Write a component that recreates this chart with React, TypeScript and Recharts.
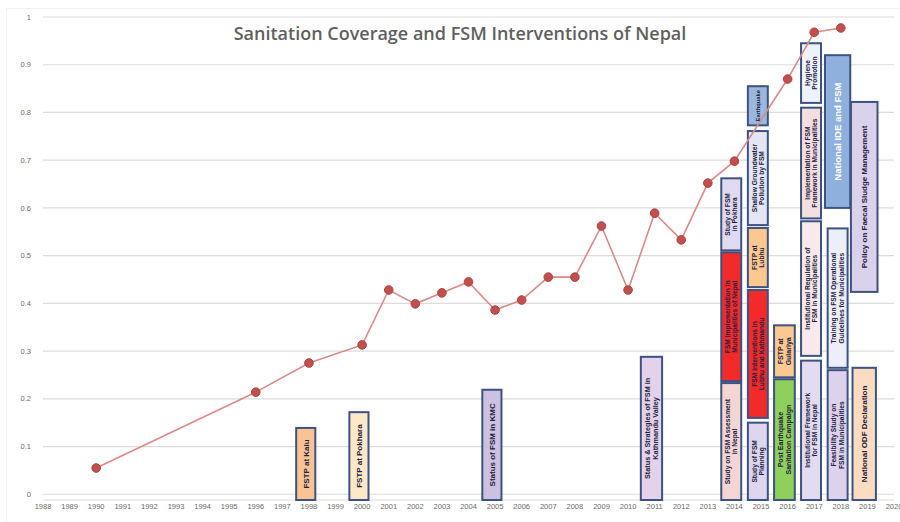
import { ComposedChart, Line, XAxis, YAxis, CartesianGrid, ReferenceArea } from "recharts";

// sanitation coverage (share of households)
const years = [1990, 1996, 1998, 2000, 2001, 2002, 2003, 2004, 2005, 2006, 2007, 2008, 2009, 2010, 2011, 2012, 2013, 2014, 2016, 2017, 2018];
const coverage = [0.055, 0.214, 0.275, 0.313, 0.428, 0.399, 0.422, 0.445, 0.386, 0.407, 0.455, 0.455, 0.562, 0.428, 0.589, 0.533, 0.652, 0.698, 0.87, 0.968, 0.977];

const axisYears = [1988, 1989, 1990, 1991, 1992, 1993, 1994, 1995, 1996, 1997, 1998, 1999, 2000, 2001, 2002, 2003, 2004, 2005, 2006, 2007, 2008, 2009, 2010, 2011, 2012, 2013, 2014, 2015, 2016, 2017, 2018, 2019, 2020];
const yTicks = [0, 0.1, 0.2, 0.3, 0.4, 0.5, 0.6, 0.7, 0.8, 0.9, 1];

// FSM interventions (year, vertical extent)
const boxYears = [1998, 2000, 2005, 2011, 2014, 2014, 2014, 2015, 2015, 2015, 2015, 2015, 2016, 2016, 2017, 2017, 2017, 2017, 2018, 2018, 2018, 2019, 2019];
const boxFrom = [-0.012, -0.012, -0.012, -0.012, -0.012, 0.237, 0.511, -0.012, 0.16, 0.434, 0.564, 0.773, -0.012, 0.245, -0.012, 0.29, 0.578, 0.82, -0.012, 0.265, 0.6, -0.012, 0.424];
const boxTo = [0.139, 0.172, 0.219, 0.288, 0.233, 0.507, 0.662, 0.15, 0.428, 0.558, 0.761, 0.855, 0.241, 0.354, 0.28, 0.572, 0.81, 0.945, 0.26, 0.557, 0.92, 0.265, 0.822];
const boxLabels = [
  "FSTP at Kalu",
  "FSTP at Pokhara",
  "Status of FSM in KMC",
  "Status & Strategies of FSM in\nKathmandu Valley",
  "Study on FSM Assessment\nin Nepal",
  "FSM Implementation in\nMunicipalities of Nepal",
  "Study of FSM\nin Pokhara",
  "Study of FSM\nPlanning",
  "FSM Interventions in\nLubhu and Kathmandu",
  "FSTP at\nLubhu",
  "Shallow Groundwater\nPollution by FSM",
  "Earthquake",
  "Post Earthquake\nSanitation Campaign",
  "FSTP at\nGulariya",
  "Institutional Framework\nfor FSM in Nepal",
  "Institutional Regulation of\nFSM in Municipalities",
  "Implementation of FSM\nFramework in Municipalities",
  "Hygiene\nPromotion",
  "Feasibility Study on\nFSM in Municipalities",
  "Training on FSM Operational\nGuidelines for Municipalities",
  "National IDE and FSM",
  "National ODF Declaration",
  "Policy on Faecal Sludge Management",
];
const boxFills = ["#f9c393", "#fde9c8", "#ccc1e0", "#e2d3ea", "#f3d6d4", "#f22a2a", "#e0daf0", "#ddd6ee", "#f22a2a", "#fbc88f", "#e4e6f4", "#9ab7dc", "#8fcf5b", "#fbc88f", "#e3dcf0", "#f8eaea", "#f5dede", "#eef2fa", "#dcd2ec", "#eceef8", "#8fb0dc", "#fbdcc0", "#d9d2ea"];
const boxWidths = [0.72, 0.72, 0.72, 0.8, 0.75, 0.75, 0.75, 0.75, 0.75, 0.75, 0.75, 0.75, 0.78, 0.78, 0.75, 0.75, 0.75, 0.75, 0.75, 0.75, 0.95, 0.88, 1.0];

const data = years.map((year, i) => ({ year, coverage: coverage[i] }));

function BoxShape(props: any) {
  const { x, y, width, height, fill, text } = props;
  const light = fill === "#8fb0dc";
  const lines: string[] = text.split("\n");
  const longest = Math.max(...lines.map((l: string) => l.length));
  const base = light ? 9.5 : 8;
  const fs = Math.max(4.8, Math.min(base, (height - 8) / (0.54 * longest), (width - 5) / (lines.length * 1.12)));
  const cx = x + width / 2;
  const cy = y + height / 2;
  const lh = fs * 1.08;
  return (
    <g>
      <rect x={x} y={y} width={width} height={height} fill={fill} stroke="#3d5282" strokeWidth={2} />
      <text
        transform={`rotate(-90 ${cx} ${cy})`}
        x={cx}
        y={cy}
        textAnchor="middle"
        fontSize={fs}
        fontFamily="Liberation Sans, Arial, sans-serif"
        fontWeight={light ? 700 : 600}
        fill={light ? "#ffffff" : "#1d2240"}
      >
        {lines.map((l, i) => (
          <tspan key={i} x={cx} dy={i === 0 ? -((lines.length - 1) / 2) * lh + fs * 0.35 : lh}>
            {l}
          </tspan>
        ))}
      </text>
    </g>
  );
}

export default function App() {
  return (
    <div style={{ position: "absolute", left: 0, top: 0, width: 900, height: 522, overflow: "hidden", background: "#fff" }}>
      <div style={{ position: "absolute", left: 6, top: 8, width: 920, height: 600, border: "1px solid #efefef" }} />
      <div
        style={{
          position: "absolute",
          left: 0,
          width: 920,
          top: 21,
          textAlign: "center",
          fontFamily: "'Open Sans', sans-serif",
          fontSize: 18,
          fontWeight: 600,
          color: "#5f5f5f",
        }}
      >
        Sanitation Coverage and FSM Interventions of Nepal
      </div>
      <ComposedChart width={900} height={522} data={data} margin={{ top: 17, right: 6, left: 0, bottom: 0 }}>
        <CartesianGrid vertical={false} stroke="#dcdcdc" strokeWidth={1.2} />
        <XAxis
          type="number"
          dataKey="year"
          domain={[1988, 2020]}
          ticks={axisYears}
          interval={0}
          axisLine={false}
          tickLine={false}
          tickSize={0}
          tickMargin={4}
          height={22}
          tick={{ fontSize: 7.5, fill: "#6a6a6a", fontFamily: "Liberation Sans, Arial, sans-serif" }}
        />
        <YAxis
          type="number"
          domain={[-0.012, 1]}
          allowDataOverflow
          ticks={yTicks}
          interval={0}
          width={43}
          axisLine={false}
          tickLine={false}
          tickSize={0}
          tickMargin={12}
          tickFormatter={(v: number) => (v === 0 || v === 1 ? String(v) : v.toFixed(1))}
          tick={{ fontSize: 7.5, fill: "#6a6a6a", fontFamily: "Liberation Sans, Arial, sans-serif" }}
        />
        <Line
          type="linear"
          dataKey="coverage"
          stroke="#d98a88"
          strokeWidth={1.6}
          dot={{ r: 4.3, fill: "#c0504d", stroke: "#b0403d", strokeWidth: 1 }}
          isAnimationActive={false}
        />
        {boxYears.map((yr, i) => {
          const c = yr - 0.12;
          return (
            <ReferenceArea
              key={i}
              x1={c - boxWidths[i] / 2}
              x2={c + boxWidths[i] / 2}
              y1={boxFrom[i]}
              y2={boxTo[i]}
              fill={boxFills[i]}
              fillOpacity={1}
              ifOverflow="visible"
              shape={(p: any) => <BoxShape {...p} fill={boxFills[i]} text={boxLabels[i]} />}
            />
          );
        })}
      </ComposedChart>
    </div>
  );
}
